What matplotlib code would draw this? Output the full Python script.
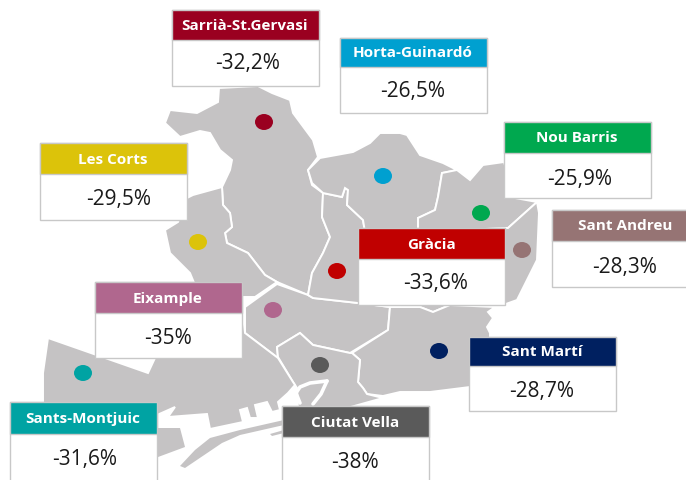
import matplotlib
matplotlib.use("Agg")
import matplotlib.pyplot as plt
from matplotlib.patches import Polygon, Rectangle, Ellipse

plt.rcParams['font.family'] = ['Open Sans', 'Noto Sans', 'DejaVu Sans']

# Data
districts = ["Sarrià-St.Gervasi", "Horta-Guinardó", "Nou Barris", "Sant Andreu", "Les Corts",
             "Gràcia", "Eixample", "Sant Martí", "Sants-Montjuic", "Ciutat Vella"]
values = ["-32,2%", "-26,5%", "-25,9%", "-28,3%", "-29,5%", "-33,6%", "-35%", "-28,7%", "-31,6%", "-38%"]
colors = ["#9a0020", "#00a0d0", "#00a84f", "#967474", "#dcc30a", "#c00000", "#b0678e", "#002060", "#00a3a3", "#5a5a5a"]

# Layout (pixel coordinates of the picture)
card_x = [172, 340, 504, 552, 40, 358, 95, 469, 10, 282]
card_top = [10, 38, 122, 210, 143, 228, 282, 337, 402, 406]
head_bottom = [40, 67, 153, 241, 174, 259, 313, 366, 434, 437]
card_bottom = [86, 113, 198, 287, 220, 305, 358, 411, 490, 490]
head_cx = [245, 413, 577, 625, 113, 431, 168, 542, 83, 355]
head_cy = [26, 53, 138, 226, 160, 245, 299, 352, 419, 423]
value_cx = [248, 413, 580, 625, 119, 436, 168, 542, 85, 355]
value_cy = [63, 92, 179, 267, 200, 283, 338, 391, 460, 462]
dot_x = [264, 383, 481, 522, 198, 337, 273, 439, 83, 320]
dot_y = [122, 176, 213, 250, 242, 271, 310, 351, 373, 365]

CARD_W = 147
LAND = "#c5c3c4"

sarria = [(219, 88), (258, 86), (272, 93), (290, 100), (293, 113), (313, 140), (318, 157), (308, 170),
          (312, 185), (323, 193), (322, 217), (330, 237), (323, 253), (312, 273), (308, 295), (277, 282),
          (265, 275), (248, 253), (227, 243), (225, 233), (232, 227), (230, 213), (223, 205), (222, 187),
          (230, 170), (232, 160), (220, 150), (210, 133), (200, 131), (180, 137), (165, 123), (170, 110),
          (197, 113), (218, 102)]
corts = [(222, 187), (193, 195), (187, 198), (178, 222), (165, 230), (170, 253), (190, 273), (197, 290),
         (242, 297), (255, 297), (277, 282), (265, 275), (248, 253), (227, 243), (225, 233), (232, 227),
         (230, 213), (223, 205)]
eixample = [(277, 284), (245, 307), (245, 333), (278, 358), (277, 347), (300, 333), (313, 345), (350, 353),
            (388, 330), (390, 307), (358, 303), (313, 298), (308, 295)]
gracia = [(308, 295), (312, 273), (323, 253), (330, 237), (322, 217), (323, 193), (342, 197), (345, 188),
          (348, 190), (347, 205), (363, 220), (365, 232), (390, 307), (358, 303), (313, 298)]
horta = [(320, 158), (308, 170), (312, 183), (323, 193), (342, 197), (345, 188), (348, 190), (347, 205),
         (363, 220), (365, 232), (418, 232), (418, 218), (435, 210), (438, 197), (442, 173), (457, 170),
         (443, 163), (420, 155), (407, 135), (400, 133), (380, 133), (370, 143), (353, 152)]
noubarris = [(442, 173), (457, 170), (470, 180), (483, 165), (504, 162), (515, 198), (537, 202), (508, 228),
             (418, 232), (418, 218), (435, 210), (438, 197)]
andreu = [(537, 202), (539, 213), (537, 260), (517, 300), (503, 305), (450, 305), (433, 312), (420, 307),
          (400, 307), (418, 232), (508, 228)]
marti = [(390, 307), (388, 330), (352, 353), (360, 360), (358, 382), (363, 388), (367, 394), (383, 396),
         (400, 392), (430, 392), (470, 387), (490, 340), (490, 333), (487, 327), (493, 318), (488, 312),
         (495, 307), (450, 305), (433, 312), (420, 307)]
ciutat = [(277, 347), (278, 357), (293, 382), (297, 388), (298, 410), (340, 410), (365, 403), (383, 398),
          (367, 394), (363, 388), (358, 382), (360, 360), (352, 353), (350, 353), (313, 345), (300, 333)]
sants = [(48, 338), (148, 373), (155, 358), (200, 320), (241, 300), (245, 333), (278, 358), (293, 382),
         (295, 385), (288, 393), (278, 402), (280, 410), (272, 412), (267, 402), (255, 405), (258, 418),
         (250, 418), (247, 408), (240, 410), (243, 422), (210, 429), (207, 414), (168, 417), (175, 407),
         (157, 415), (120, 440), (43, 403), (43, 373)]
regions = [sarria, corts, eixample, gracia, horta, noubarris, andreu, marti, ciutat, sants]

island = [(150, 428), (180, 428), (185, 447), (150, 460)]
strip = [(180, 466), (195, 450), (210, 438), (240, 430), (284, 420), (284, 425), (240, 435), (222, 443), (185, 468)]
strip2 = [(270, 434), (284, 430), (284, 433), (272, 436)]
shallows = [island, strip, strip2]

port_outer = [(327, 381), (310, 383), (300, 387), (296, 393), (300, 403)]
port_inner = [(327, 381), (321, 394), (313, 404)]

fig = plt.figure(figsize=(6.86, 4.80), dpi=100)
ax = fig.add_axes([0, 0, 1, 1])
ax.set_xlim(0, 686)
ax.set_ylim(480, 0)
ax.axis("off")

for r in regions:
    ax.add_patch(Polygon(r, closed=True, facecolor=LAND, edgecolor="white", linewidth=1.4, zorder=1))
for r in shallows:
    ax.add_patch(Polygon(r, closed=True, facecolor=LAND, edgecolor="none", zorder=1))
for line in (port_outer, port_inner):
    ax.plot([p[0] for p in line], [p[1] for p in line], color="white", linewidth=2.6,
            solid_capstyle="round", solid_joinstyle="round", zorder=2)

for x, y, c in zip(dot_x, dot_y, colors):
    ax.add_patch(Ellipse((x, y), 18, 16, facecolor=c, edgecolor="none", zorder=3))

for i, name in enumerate(districts):
    x, t, h, b = card_x[i], card_top[i], head_bottom[i], card_bottom[i]
    ax.add_patch(Rectangle((x, t), CARD_W, b - t, facecolor="white", edgecolor="#c8c8c8", linewidth=1.0, zorder=4))
    ax.add_patch(Rectangle((x, t), CARD_W, h - t, facecolor=colors[i], edgecolor="#c8c8c8", linewidth=1.0, zorder=5))
    ax.text(head_cx[i], head_cy[i], name, color="white", fontsize=11, fontweight="bold",
            ha="center", va="center", zorder=6)
    ax.text(value_cx[i], value_cy[i], values[i], color="#1a1a1a", fontsize=15,
            ha="center", va="center", zorder=6)

fig.savefig("out.png", dpi=100)
